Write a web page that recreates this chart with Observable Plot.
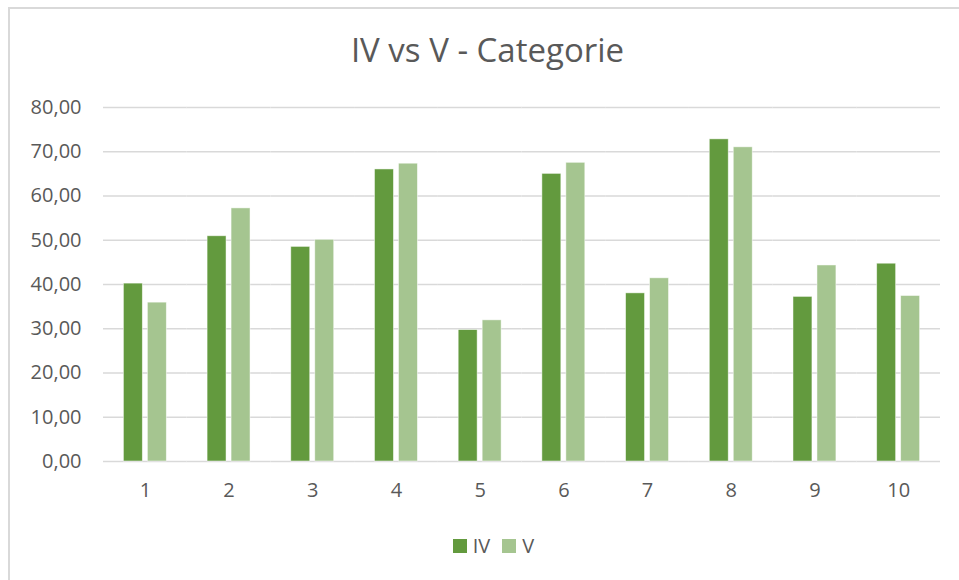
<!DOCTYPE html>
<html>
<head>
<meta charset="utf-8">
<script src="https://cdn.jsdelivr.net/npm/d3@7"></script>
<script src="https://cdn.jsdelivr.net/npm/@observablehq/plot@0.6"></script>
<style>
  html, body { margin: 0; padding: 0; background: #fff; overflow: hidden; }
  body { width: 959px; height: 580px; position: relative; font-family: "Open Sans", sans-serif; color: #595959; }
  #frame { position: absolute; left: 8px; top: 7px; width: 1000px; height: 1000px; border-left: 2px solid #d9d9d9; border-top: 2px solid #d9d9d9; pointer-events: none; }
  #title { position: absolute; left: 8px; top: 27px; width: 959px; text-align: center; font-size: 33px; font-weight: 400; color: #595959; }
  #chart { position: absolute; left: 0; top: 90px; }
  #legend { position: absolute; left: 14px; top: 532px; width: 959px; display: flex; justify-content: center; align-items: center; font-size: 20px; color: #595959; }
  .item { display: flex; align-items: center; margin: 0 6px; }
  .sw { width: 14px; height: 14px; margin-right: 6px; }
</style>
</head>
<body>
<div id="frame"></div>
<div id="title">IV vs V - Categorie</div>
<div id="chart"></div>
<div id="legend"></div>
<script>
const categories = ["1","2","3","4","5","6","7","8","9","10"];
const seriesNames = ["IV", "V"];
const seriesColors = ["#639a3e", "#a5c590"];
const valuesIV = [40.2, 50.9, 48.5, 66.0, 29.7, 65.0, 38.0, 72.8, 37.2, 44.7];
const valuesV  = [35.9, 57.2, 50.1, 67.3, 31.9, 67.5, 41.4, 71.0, 44.3, 37.4];
const yTicks = [0, 10, 20, 30, 40, 50, 60, 70, 80];
const yTickLabels = ["0,00","10,00","20,00","30,00","40,00","50,00","60,00","70,00","80,00"];

const rows = [];
categories.forEach((c, i) => {
  rows.push({cat: c, series: "IV", value: valuesIV[i]});
  rows.push({cat: c, series: "V", value: valuesV[i]});
});

const plot = Plot.plot({
  width: 959,
  height: 421,
  marginLeft: 103,
  marginRight: 19,
  marginTop: 17,
  marginBottom: 50,
  style: {fontFamily: "Open Sans, sans-serif", fontSize: "20px", color: "#595959", background: "transparent", overflow: "visible"},
  fx: {domain: categories, padding: 0, round: false, label: null, axis: null},
  x: {domain: seriesNames, paddingInner: 0.21, paddingOuter: 0.85, round: false, axis: null},
  y: {domain: [0, 80], axis: null},
  color: {domain: seriesNames, range: seriesColors},
  marks: [
    Plot.ruleY(yTicks, {stroke: "#d9d9d9", strokeWidth: 1.4}),
    Plot.barY(rows, {fx: "cat", x: "series", y: "value", fill: "series", stroke: "#ffffff", strokeOpacity: 0.6, strokeWidth: 0.8}),
    Plot.axisY(yTicks, {anchor: "left", tickSize: 0, tickPadding: 22, label: null, fill: "#595959", tickFormat: (d) => yTickLabels[yTicks.indexOf(d)], facetAnchor: "left"}),
    Plot.axisFx({anchor: "bottom", tickSize: 0, tickPadding: 21, label: null, fill: "#595959"})
  ]
});
document.getElementById("chart").appendChild(plot);

const legend = document.getElementById("legend");
seriesNames.forEach((s, i) => {
  const it = document.createElement("div");
  it.className = "item";
  const sw = document.createElement("div");
  sw.className = "sw";
  sw.style.background = seriesColors[i];
  const t = document.createElement("span");
  t.textContent = s;
  it.appendChild(sw); it.appendChild(t);
  legend.appendChild(it);
});
</script>
</body>
</html>
